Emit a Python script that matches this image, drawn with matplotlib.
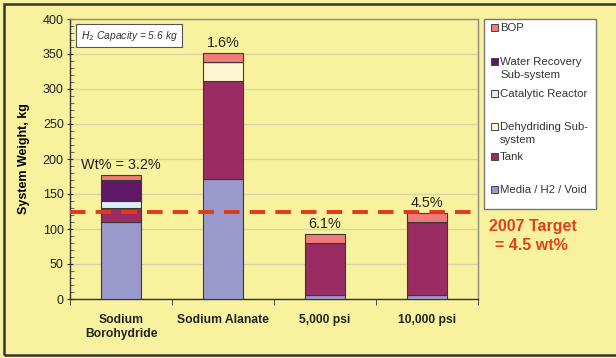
import matplotlib
matplotlib.use("Agg")
import matplotlib.pyplot as plt
from matplotlib.patches import Rectangle
import numpy as np

plt.rcParams['font.family'] = ['Liberation Sans', 'DejaVu Sans']

categories = ["Sodium\nBorohydride", "Sodium Alanate", "5,000 psi", "10,000 psi"]
series_names = ["Media / H2 / Void", "Tank", "Dehydriding Sub-\nsystem", "Catalytic Reactor",
                "Water Recovery\nSub-system", "BOP"]
media = [110, 172, 6, 6]
tank = [20, 139, 74, 104]
dehydriding = [0, 27, 0, 0]
catalytic = [10, 0, 0, 0]
water_recovery = [30, 0, 0, 0]
bop = [7, 13, 13, 13]
wt_labels = ["Wt% = 3.2%", "1.6%", "6.1%", "4.5%"]
target_value = 125
colors = ["#9A99CC", "#9A2C63", "#FBF6D0", "#D9F0F4", "#5E1865", "#F27A7A"]

W, H = 616, 358
def fx(px):
    return px / W
def fy(py):
    return 1 - py / H

bg = "#F8F29E"
fig = plt.figure(figsize=(6.16, 3.58), dpi=100, facecolor=bg)
ax = fig.add_axes([fx(70), fy(299), 408 / W, 280 / H])
ax.set_facecolor(bg)

x = np.arange(len(categories))
series = [media, tank, dehydriding, catalytic, water_recovery, bop]
bottom = np.zeros(len(categories))
for vals, name, c in zip(series, series_names, colors):
    v = np.array(vals, dtype=float)
    ax.bar(x, v, width=0.4, bottom=bottom, color=c, edgecolor="#3a3a3a",
           linewidth=0.8, label=name, zorder=3)
    bottom += v

for xi, tot, lab in zip(x, bottom, wt_labels):
    ax.text(xi, tot + 4, lab, ha="center", va="bottom", fontsize=10.4, color="#222222", zorder=5)

ax.axhline(target_value, color="#E03A1E", linestyle=(0, (4, 2.6)), linewidth=2.8, zorder=4)

ax.set_xlim(-0.5, len(categories) - 0.5)
ax.set_ylim(0, 400)
ax.set_yticks(np.arange(0, 401, 50))
ax.set_yticks(np.arange(0, 401, 10), minor=True)
ax.set_xticks(x)
ax.set_xticklabels(categories, fontsize=8.7, fontweight="bold", color="#222222")
ax.tick_params(axis="x", length=0, pad=11)
ax.set_xticks(np.arange(-0.5, len(categories), 1.0), minor=True)
ax.tick_params(axis="x", which="minor", length=4, color="#333333", direction="out")
ax.tick_params(axis="y", which="major", length=5, direction="inout", pad=2, labelsize=9,
               color="#333333", labelcolor="#222222")
ax.tick_params(axis="y", which="minor", length=3, direction="in", color="#555555")
ax.grid(axis="y", which="major", color="#DAD4A8", linewidth=1.0, zorder=0)
ax.set_axisbelow(True)
for s in ["top", "right"]:
    ax.spines[s].set_color("#8C8C80")
    ax.spines[s].set_linewidth(1.0)
for s in ["left", "bottom"]:
    ax.spines[s].set_color("#333333")
    ax.spines[s].set_linewidth(1.0)
ax.set_ylabel("System Weight, kg", fontsize=9, fontweight="bold", labelpad=9)

ax.text(0.027, 0.965, r"$\mathit{H_2}$ Capacity = 5.6 kg", transform=ax.transAxes,
        fontsize=7.4, style="italic", ha="left", va="top", color="#333333",
        bbox=dict(boxstyle="square,pad=0.45", facecolor="white", edgecolor="#555555", linewidth=0.8))

# legend (drawn as an Excel-style box)
fig.patches.append(Rectangle((fx(484), fy(209)), 112 / W, 190 / H, transform=fig.transFigure,
                             facecolor="white", edgecolor="#777777", linewidth=1.0, zorder=1))
legend_rows = [27, 61, 93, 126, 156, 189]
legend_order = list(range(len(series_names)))[::-1]
for row_y, idx in zip(legend_rows, legend_order):
    fig.patches.append(Rectangle((fx(491), fy(row_y + 3.5)), 7 / W, 7 / H, transform=fig.transFigure,
                                 facecolor=colors[idx], edgecolor="#444444", linewidth=0.7, zorder=2))
    for k, line in enumerate(series_names[idx].split("\n")):
        fig.text(fx(500), fy(row_y + 1.2 + 12.5 * k), line, fontsize=8.2, color="#333333",
                 ha="left", va="center", zorder=3)

fig.text(fx(489), fy(227), "2007 Target", fontsize=11.5, fontweight="bold",
         color="#E0401E", ha="left", va="center")
fig.text(fx(495), fy(245), "= 4.5 wt%", fontsize=11.5, fontweight="bold",
         color="#E0401E", ha="left", va="center")

# outer frame
fig.patches.append(Rectangle((fx(4), fy(355)), 630 / W, 351 / H, transform=fig.transFigure,
                             fill=False, edgecolor="#333333", linewidth=1.8))

fig.savefig("out.png", dpi=100, facecolor=bg)
